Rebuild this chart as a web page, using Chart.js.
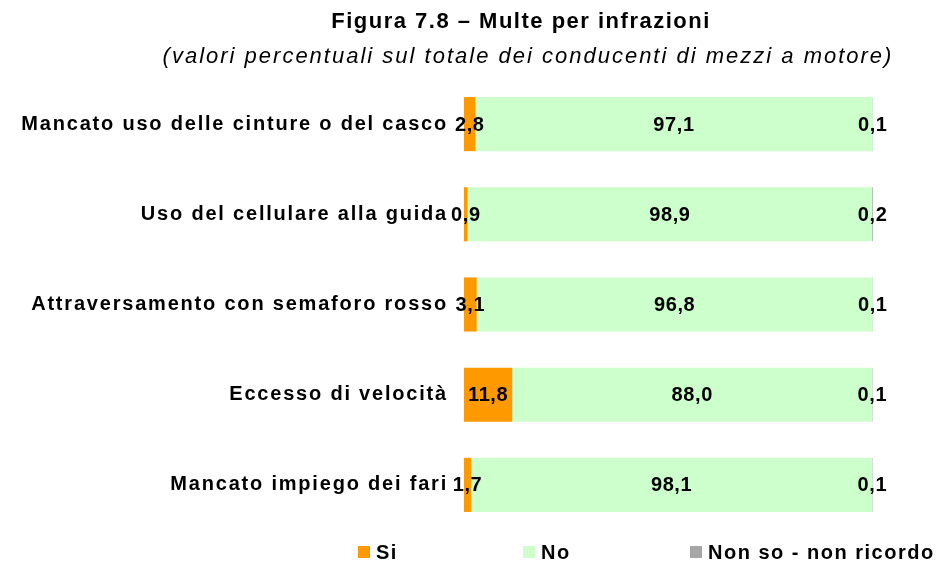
<!DOCTYPE html>
<html>
<head>
<meta charset="utf-8">
<script src="https://cdn.jsdelivr.net/npm/chart.js@4"></script>
<style>
    html, body { margin: 0; padding: 0; background: #fff; }
    #wrap { width: 939px; height: 565px; position: relative; }
</style>
</head>
<body>
<div id="wrap"><canvas id="multeChart" width="939" height="565"></canvas></div>
<script>
// ====== Data ======
const CATEGORIES = [
    "Mancato uso delle cinture o del casco",
    "Uso del cellulare alla guida",
    "Attraversamento con semaforo rosso",
    "Eccesso di velocità",
    "Mancato impiego dei fari"
];
const SI_VALUES = [2.8, 0.9, 3.1, 11.8, 1.7];
const NO_VALUES = [97.1, 98.9, 96.8, 88.0, 98.1];
const NONSO_VALUES = [0.1, 0.2, 0.1, 0.1, 0.1];
const SERIES_LABELS = ["Si", "No", "Non so - non ricordo"];
const SERIES_COLORS = ["#FF9900", "#CCFFCC", "#A6A6A6"];

const TITLE = "Figura 7.8 \u2013 Multe per infrazioni";
const SUBTITLE = "(valori percentuali sul totale dei conducenti di mezzi a motore)";
const FONT = "'Liberation Sans', Arial, Helvetica, sans-serif";

// ---- Title, subtitle, bar labels and legend ----
const decorPlugin = {
    id: 'decor',
    beforeDraw(chart) {
        // wider spacing for the category tick labels
        chart.ctx.letterSpacing = '1.8px';
    },
    beforeDatasetsDraw(chart) {
        chart.ctx.letterSpacing = '0px';
    },
    afterDatasetsDraw(chart) {
        const ctx = chart.ctx;
        ctx.save();
        ctx.fillStyle = '#000';
        ctx.textBaseline = 'middle';
        ctx.textAlign = 'center';
        ctx.letterSpacing = '0.6px';
        ctx.font = 'bold 20px ' + FONT;
        chart.data.datasets.forEach((ds, i) => {
            chart.getDatasetMeta(i).data.forEach((bar, j) => {
                const v = ds.data[j];
                const x = (bar.x + bar.base) / 2;
                ctx.fillText(v.toFixed(1).replace('.', ','), x, bar.y + 1);
            });
        });
        ctx.restore();
    },
    afterDraw(chart) {
        const ctx = chart.ctx;
        ctx.save();
        ctx.fillStyle = '#000';
        ctx.textBaseline = 'middle';
        ctx.textAlign = 'center';
        ctx.font = 'bold 22px ' + FONT;
        ctx.letterSpacing = '1.5px';
        ctx.fillText(TITLE, 521, 22);
        ctx.font = 'italic 22px ' + FONT;
        ctx.letterSpacing = '2px';
        ctx.fillText(SUBTITLE, 528, 57);

        // legend
        const legendX = [358, 523, 690];
        ctx.font = 'bold 20px ' + FONT;
        ctx.letterSpacing = '1.5px';
        ctx.textAlign = 'left';
        SERIES_LABELS.forEach((lbl, i) => {
            ctx.fillStyle = SERIES_COLORS[i];
            ctx.fillRect(legendX[i], 546, 12, 12);
            ctx.fillStyle = '#000';
            ctx.fillText(lbl, legendX[i] + 18, 553);
        });
        ctx.restore();
    }
};

const datasets = [SI_VALUES, NO_VALUES, NONSO_VALUES].map((vals, i) => ({
    label: SERIES_LABELS[i],
    data: vals,
    backgroundColor: SERIES_COLORS[i],
    borderWidth: 0,
    categoryPercentage: 1.0,
    barPercentage: 0.6
}));

new Chart(document.getElementById('multeChart'), {
    type: 'bar',
    data: { labels: CATEGORIES, datasets },
    options: {
        indexAxis: 'y',
        responsive: false,
        animation: false,
        layout: { padding: { top: 79, right: 66, bottom: 35, left: 0 } },
        plugins: {
            legend: { display: false },
            tooltip: { enabled: false },
            title: { display: false }
        },
        scales: {
            x: {
                stacked: true,
                min: 0,
                max: 100,
                display: false
            },
            y: {
                stacked: true,
                grid: { display: false },
                border: { display: false },
                afterFit: scale => { scale.width = 464; },
                ticks: {
                    color: '#000',
                    padding: 8,
                    font: { family: FONT, size: 20, weight: 'bold' }
                }
            }
        }
    },
    plugins: [decorPlugin]
});
</script>
</body>
</html>
